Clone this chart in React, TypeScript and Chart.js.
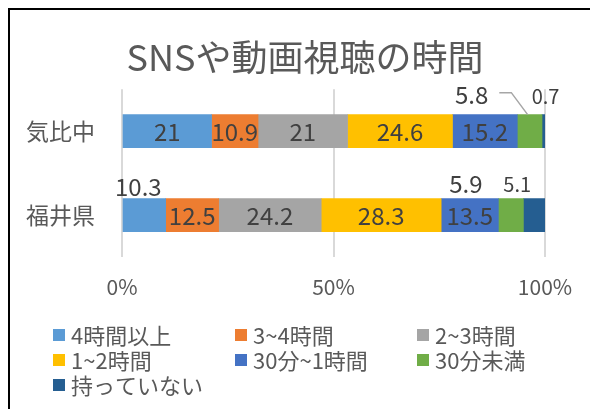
import React, { useEffect, useRef } from 'react';
import { Chart, registerables } from 'chart.js';

Chart.register(...registerables);

const categories = ['気比中', '福井県'];
const seriesNames = ['4時間以上', '3~4時間', '2~3時間', '1~2時間', '30分~1時間', '30分未満', '持っていない'];
const s4plus = [21, 10.3];
const s3to4 = [10.9, 12.5];
const s2to3 = [21, 24.2];
const s1to2 = [24.6, 28.3];
const s30to1 = [15.2, 13.5];
const sUnder30 = [5.8, 5.9];
const sNone = [0.7, 5.1];
const xTicks = [0, 50, 100];
const titleText = 'SNSや動画視聴の時間';

const seriesValues = [s4plus, s3to4, s2to3, s1to2, s30to1, sUnder30, sNone];
const colors = ['#5B9BD5', '#ED7D31', '#A5A5A5', '#FFC000', '#4472C4', '#70AD47', '#255E91'];
const FONT = '"Noto Sans CJK JP", "Noto Sans", sans-serif';
const TEXT = '#595959';
const LABEL = '#404040';

// Excel-like manually moved data labels (offsets relative to segment centre / bar top)
const labelNudges: Record<string, { dx: number; dy: number; leader?: boolean }> = {
  '1-0': { dx: -6, dy: -12 },
  '1-5': { dx: -45, dy: -15 },
  '1-6': { dx: -17, dy: -14 },
  '0-5': { dx: -58, dy: -20, leader: true },
  '0-6': { dx: 2, dy: -18 },
};

const totals = categories.map((_, i) => seriesValues.reduce((s, arr) => s + arr[i], 0));

const labelPlugin = {
  id: 'segLabels',
  afterDatasetsDraw(chart: any) {
    const ctx = chart.ctx;
    ctx.save();
    chart.data.datasets.forEach((ds: any, di: number) => {
      const meta = chart.getDatasetMeta(di);
      meta.data.forEach((el: any, i: number) => {
        const raw = ds.raw[i];
        const { x, base, y, height } = el.getProps(['x', 'base', 'y', 'height'], true);
        const cx = (x + base) / 2;
        const size = di === 6 ? 20 : 24;
        ctx.font = `${size}px ${FONT}`;
        ctx.fillStyle = LABEL;
        ctx.textAlign = 'center';
        ctx.textBaseline = 'middle';
        const text = String(raw);
        const nudge = labelNudges[`${i}-${di}`];
        if (nudge) {
          const top = y - height / 2;
          const lx = cx + nudge.dx;
          const ly = top + nudge.dy;
          ctx.fillText(text, lx, ly);
          if (nudge.leader) {
            const w = ctx.measureText(text).width;
            const sx = lx + w / 2 + 11;
            ctx.strokeStyle = '#A6A6A6';
            ctx.lineWidth = 1.5;
            ctx.beginPath();
            ctx.moveTo(sx, ly - 2);
            ctx.lineTo(sx + 12, ly - 2);
            ctx.lineTo(cx - 2, top);
            ctx.stroke();
          }
        } else {
          ctx.fillText(text, cx, y + 1);
        }
      });
    });
    ctx.restore();
  },
};

const titleLegendPlugin = {
  id: 'titleAndLegend',
  afterDraw(chart: any) {
    const ctx = chart.ctx;
    const area = chart.chartArea;
    ctx.save();
    // title centred on the whole canvas
    ctx.font = `36px ${FONT}`;
    ctx.fillStyle = TEXT;
    ctx.textAlign = 'center';
    ctx.textBaseline = 'middle';
    ctx.fillText(titleText, chart.width / 2, 47);
    // legend in a 3-column grid
    ctx.font = `22px ${FONT}`;
    ctx.textAlign = 'left';
    const x0 = 43;
    const colW = 182;
    const y0 = area.bottom + 78;
    const rowH = 25;
    seriesNames.forEach((name, k) => {
      const col = k % 3;
      const row = Math.floor(k / 3);
      const x = x0 + col * colW;
      const y = y0 + row * rowH;
      ctx.fillStyle = colors[k];
      ctx.fillRect(x, y - 6, 12, 12);
      ctx.fillStyle = TEXT;
      ctx.fillText(name, x + 18, y + 1);
    });
    ctx.restore();
  },
};

export default function App() {
  const ref = useRef<HTMLCanvasElement | null>(null);

  useEffect(() => {
    document.documentElement.style.overflow = 'hidden';
    document.body.style.overflow = 'hidden';
    const canvas = ref.current;
    if (!canvas) return;
    const chart = new Chart(canvas, {
      type: 'bar',
      data: {
        labels: categories,
        datasets: seriesNames.map((name, k) => ({
          label: name,
          data: seriesValues[k].map((v, i) => (v / totals[i]) * 100),
          raw: seriesValues[k],
          backgroundColor: colors[k],
          borderWidth: 0,
          barThickness: 33,
        })) as any,
      },
      options: {
        indexAxis: 'y',
        animation: false,
        responsive: false,
        layout: { padding: { left: 0, right: 55, top: 0, bottom: 103 } },
        plugins: {
          legend: { display: false },
          tooltip: { enabled: false },
          title: {
            display: true,
            text: titleText,
            color: 'rgba(0,0,0,0)',
            font: { family: FONT, size: 36, weight: 'normal' },
            padding: { top: 25, bottom: 11 },
          },
        },
        scales: {
          x: {
            stacked: true,
            min: 0,
            max: 100,
            afterBuildTicks: (s: any) => {
              s.ticks = xTicks.map((v) => ({ value: v }));
            },
            afterFit: (s: any) => {
              s.height = 60;
            },
            ticks: {
              callback: (v: any) => `${v}%`,
              color: TEXT,
              font: { family: FONT, size: 21 },
              padding: 17,
              maxRotation: 0,
            },
            grid: { color: '#D9D9D9', lineWidth: 2, drawTicks: false },
            border: { display: false },
          },
          y: {
            stacked: true,
            afterFit: (s: any) => {
              s.width = 112;
            },
            ticks: {
              color: TEXT,
              font: { family: FONT, size: 23 },
              padding: 19,
            },
            grid: { display: false },
            border: { display: false },
          },
        },
      } as any,
      plugins: [labelPlugin, titleLegendPlugin],
    });
    return () => chart.destroy();
  }, []);

  return (
    <div style={{ border: '2px solid #000', width: 590, height: 410, background: '#fff' }}>
      <canvas ref={ref} width={590} height={410} style={{ display: 'block' }} />
    </div>
  );
}
